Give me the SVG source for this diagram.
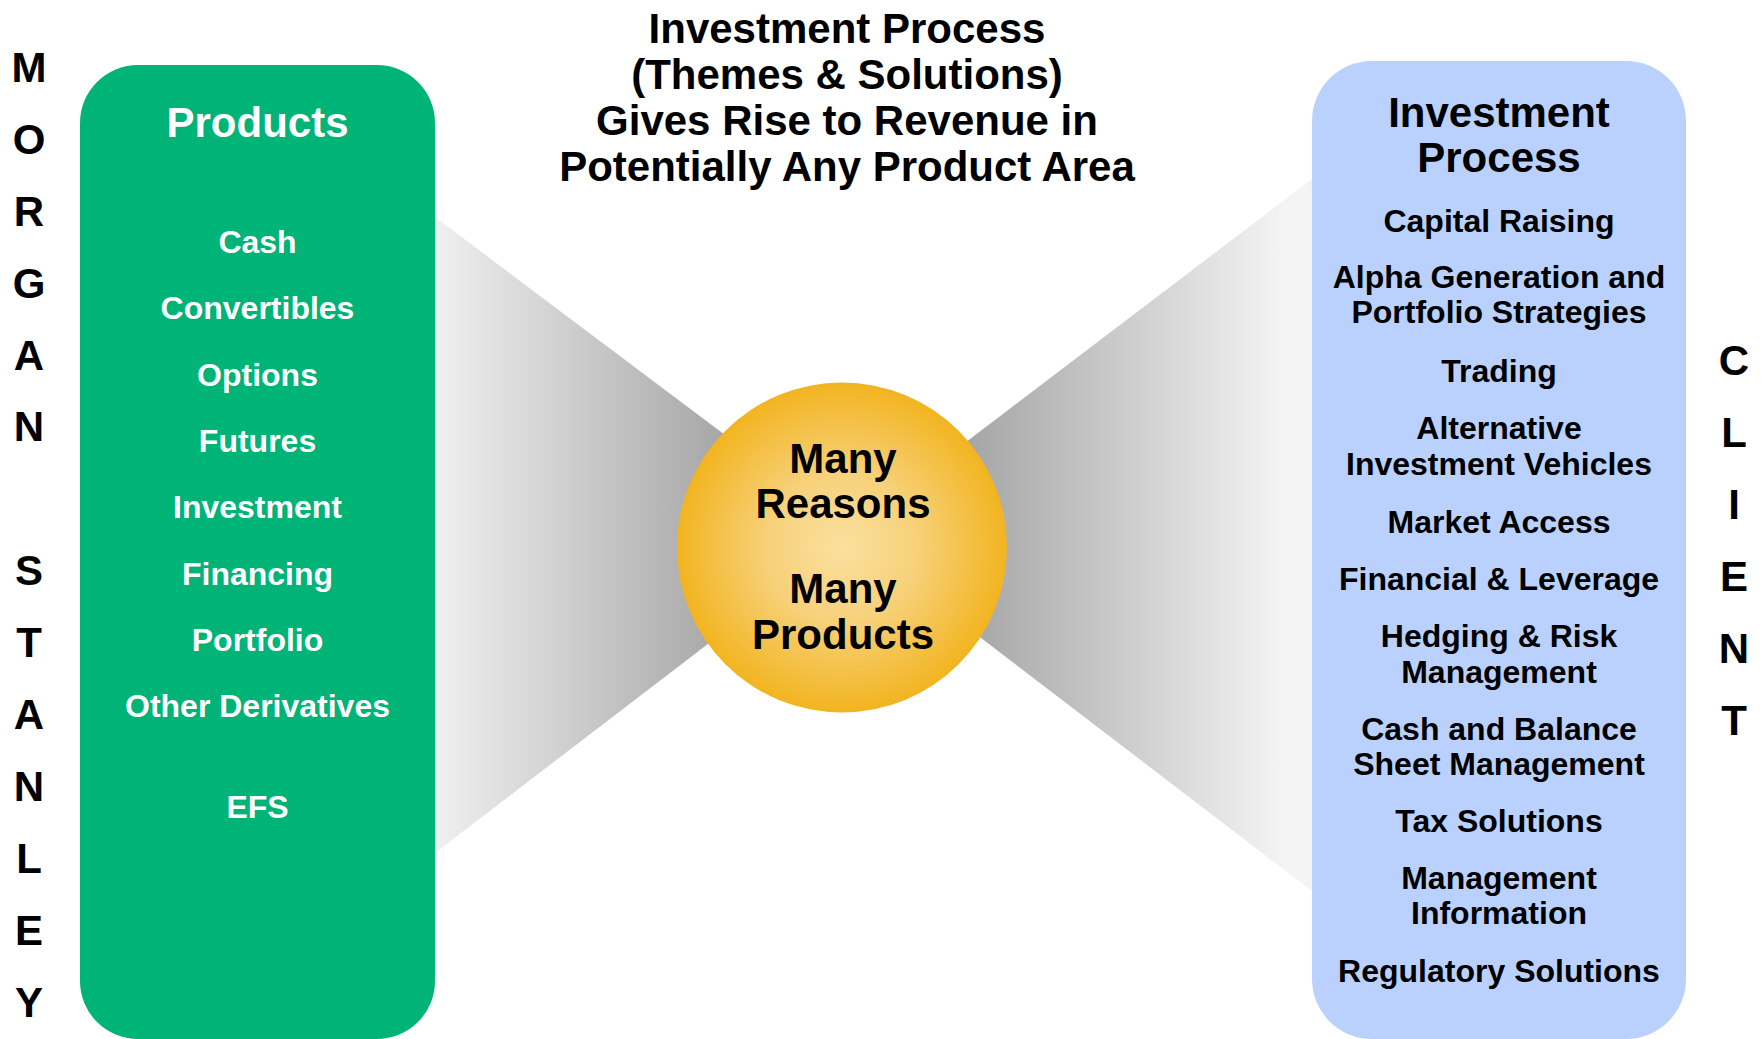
<svg xmlns="http://www.w3.org/2000/svg" width="1762" height="1039" viewBox="0 0 1762 1039">
  <defs>
    <style>
      text { font-family: "Liberation Sans", Arial, Helvetica, sans-serif; font-weight: bold; text-anchor: middle; }
      .side { font-size: 42px; fill: #000000; }
      .title { font-size: 42px; fill: #000000; }
      .head-w { font-size: 42px; fill: #ffffff; }
      .head-k { font-size: 42px; fill: #000000; }
      .item-w { font-size: 32px; fill: #ffffff; }
      .item-k { font-size: 32px; fill: #000000; }
      .hub { font-size: 42px; fill: #000000; }
    </style>
    <linearGradient id="wedgeLeft" gradientUnits="userSpaceOnUse" x1="435" y1="0" x2="725" y2="0">
      <stop offset="0" stop-color="#F0F0F0"/>
      <stop offset="1" stop-color="#A6A6A6"/>
    </linearGradient>
    <linearGradient id="wedgeRight" gradientUnits="userSpaceOnUse" x1="970" y1="0" x2="1285" y2="0">
      <stop offset="0" stop-color="#A6A6A6"/>
      <stop offset="1" stop-color="#F4F4F4"/>
    </linearGradient>
    <radialGradient id="hubFill" cx="0.5" cy="0.5" r="0.5">
      <stop offset="0" stop-color="#FAE09F"/>
      <stop offset="0.45" stop-color="#F7D17A"/>
      <stop offset="1" stop-color="#F2B420"/>
    </radialGradient>
  </defs>

  <rect width="1762" height="1039" fill="#ffffff"/>

  <!-- funnels joining both columns to the hub -->
  <g id="connectors">
    <polygon points="435,217 854,532 435,853" fill="url(#wedgeLeft)"/>
    <polygon points="1312,179 845,534 1312,891" fill="url(#wedgeRight)"/>
  </g>

  <!-- vertical firm name -->
  <g id="label-morgan-stanley" class="side">
    <text class="side" x="29" y="82">M</text>
    <text class="side" x="29" y="154">O</text>
    <text class="side" x="29" y="226">R</text>
    <text class="side" x="29" y="298">G</text>
    <text class="side" x="29" y="370">A</text>
    <text class="side" x="29" y="441">N</text>
    <text class="side" x="29" y="585">S</text>
    <text class="side" x="29" y="657">T</text>
    <text class="side" x="29" y="729">A</text>
    <text class="side" x="29" y="801">N</text>
    <text class="side" x="29" y="873">L</text>
    <text class="side" x="29" y="945">E</text>
    <text class="side" x="29" y="1017">Y</text>
  </g>

  <!-- vertical client label -->
  <g id="label-client">
    <text class="side" x="1734" y="375">C</text>
    <text class="side" x="1734" y="447">L</text>
    <text class="side" x="1734" y="519">I</text>
    <text class="side" x="1734" y="591">E</text>
    <text class="side" x="1734" y="663">N</text>
    <text class="side" x="1734" y="735">T</text>
  </g>

  <!-- heading -->
  <g id="title">
    <text class="title" x="847" y="43">Investment Process</text>
    <text class="title" x="847" y="89">(Themes &amp; Solutions)</text>
    <text class="title" x="847" y="135">Gives Rise to Revenue in</text>
    <text class="title" x="847" y="181">Potentially Any Product Area</text>
  </g>

  <!-- products column -->
  <g id="products">
    <rect x="80" y="65" width="355" height="974" rx="58" ry="58" fill="#00B377"/>
    <text class="head-w" x="257.5" y="137">Products</text>
    <text class="item-w" x="257.5" y="253">Cash</text>
    <text class="item-w" x="257.5" y="319">Convertibles</text>
    <text class="item-w" x="257.5" y="386">Options</text>
    <text class="item-w" x="257.5" y="452">Futures</text>
    <text class="item-w" x="257.5" y="518">Investment</text>
    <text class="item-w" x="257.5" y="585">Financing</text>
    <text class="item-w" x="257.5" y="651">Portfolio</text>
    <text class="item-w" x="257.5" y="717">Other Derivatives</text>
    <text class="item-w" x="257.5" y="818">EFS</text>
  </g>

  <!-- investment process column -->
  <g id="investment-process">
    <rect x="1312" y="61" width="374" height="978" rx="60" ry="60" fill="#B9D1FC"/>
    <text class="head-k" x="1499" y="127">Investment</text>
    <text class="head-k" x="1499" y="172">Process</text>
    <text class="item-k" x="1499" y="232">Capital Raising</text>
    <text class="item-k" x="1499" y="288">Alpha Generation and</text>
    <text class="item-k" x="1499" y="323">Portfolio Strategies</text>
    <text class="item-k" x="1499" y="382">Trading</text>
    <text class="item-k" x="1499" y="439">Alternative</text>
    <text class="item-k" x="1499" y="475">Investment Vehicles</text>
    <text class="item-k" x="1499" y="533">Market Access</text>
    <text class="item-k" x="1499" y="590">Financial &amp; Leverage</text>
    <text class="item-k" x="1499" y="647">Hedging &amp; Risk</text>
    <text class="item-k" x="1499" y="683">Management</text>
    <text class="item-k" x="1499" y="740">Cash and Balance</text>
    <text class="item-k" x="1499" y="775">Sheet Management</text>
    <text class="item-k" x="1499" y="832">Tax Solutions</text>
    <text class="item-k" x="1499" y="889">Management</text>
    <text class="item-k" x="1499" y="924">Information</text>
    <text class="item-k" x="1499" y="982">Regulatory Solutions</text>
  </g>

  <!-- central hub -->
  <g id="hub">
    <circle cx="842" cy="547.5" r="165" fill="url(#hubFill)"/>
    <text class="hub" x="843" y="473">Many</text>
    <text class="hub" x="843" y="518">Reasons</text>
    <text class="hub" x="843" y="603">Many</text>
    <text class="hub" x="843" y="649">Products</text>
  </g>
</svg>
